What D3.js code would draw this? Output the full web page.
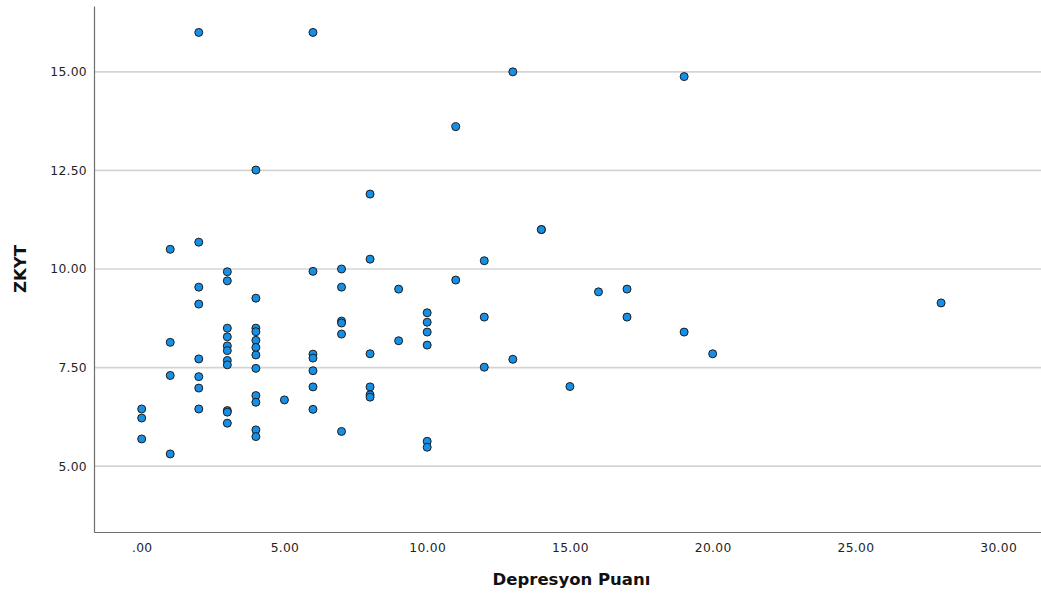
<!DOCTYPE html>
<html>
<head>
<meta charset="utf-8">
<script src="https://cdn.jsdelivr.net/npm/d3@7/dist/d3.min.js"></script>
<style>
  html, body { margin: 0; padding: 0; background: #fff; }
  svg { display: block; }
  .tick-label { font-family: "DejaVu Sans", sans-serif; font-size: 12.3px; fill: #222; letter-spacing: 0.3px; }
  .axis-title { font-family: "DejaVu Sans", sans-serif; font-size: 16.5px; font-weight: bold; fill: #111; }
</style>
</head>
<body>
<svg id="chart" width="1041" height="597"></svg>
<script>
// Depresyon Puanı (x) and ZKYT (y) for each respondent
const depresyon = [
  0, 0, 0,
  1, 1, 1, 1,
  2, 2, 2, 2, 2, 2, 2, 2,
  3, 3, 3, 3, 3, 3, 3, 3, 3, 3, 3,
  4, 4, 4, 4, 4, 4, 4, 4, 4, 4, 4, 4,
  5,
  6, 6, 6, 6, 6, 6, 6,
  7, 7, 7, 7, 7, 7,
  8, 8, 8, 8, 8, 8,
  9, 9,
  10, 10, 10, 10, 10, 10,
  11, 11,
  12, 12, 12,
  13, 13,
  14, 14,
  15,
  16,
  17, 17,
  19, 19,
  20,
  28
];
const zkyt = [
  6.45, 6.22, 5.69,
  10.50, 8.14, 7.30, 5.31,
  16.00, 10.68, 9.54, 9.11, 7.72, 7.27, 6.98, 6.45,
  9.93, 9.70, 8.50, 8.28, 8.05, 7.93, 7.68, 7.57, 6.41, 6.37, 6.09,
  12.51, 9.26, 8.50, 8.41, 8.19, 8.01, 7.82, 7.48, 6.79, 6.62, 5.92, 5.75,
  6.68,
  16.00, 9.94, 7.84, 7.74, 7.42, 7.01, 6.44,
  10.00, 9.54, 8.68, 8.63, 8.35, 5.88,
  11.90, 10.25, 7.85, 7.01, 6.81, 6.75,
  9.49, 8.18,
  8.89, 8.65, 8.40, 8.07, 5.63, 5.48,
  13.61, 9.72,
  10.21, 8.78, 7.51,
  15.00, 7.71,
  11.00, 11.00,
  7.02,
  9.42,
  9.49, 8.78,
  14.88, 8.40,
  7.85,
  9.14
];

const xTicks = [0, 5, 10, 15, 20, 25, 30];
const yTicks = [5, 7.5, 10, 12.5, 15];
const xDomain = [-1.67, 31.5];
const yDomain = [3.33, 16.67];

const xTitle = "Depresyon Puanı";
const yTitle = "ZKYT";

const svg = d3.select("#chart");
const plot = { left: 94, top: 6, right: 1041, bottom: 532 };

const x = d3.scaleLinear().domain(xDomain).range([plot.left, plot.right]);
const y = d3.scaleLinear().domain(yDomain).range([plot.bottom, plot.top]);

// SPSS-style labels: two decimals, no leading zero for 0
const fmt = v => { const s = d3.format(".2f")(v); return s.startsWith("0.") ? s.slice(1) : s; };

// horizontal gridlines
svg.append("g")
  .selectAll("line")
  .data(yTicks)
  .join("line")
  .attr("x1", plot.left)
  .attr("x2", plot.right)
  .attr("y1", d => y(d))
  .attr("y2", d => y(d))
  .attr("stroke", "#d4d4d4")
  .attr("stroke-width", 1.6);

// axis lines
const yAxis = d3.axisLeft(y).tickValues(yTicks).tickSize(0).tickPadding(7).tickFormat(fmt);
const xAxis = d3.axisBottom(x).tickValues(xTicks).tickSize(0).tickPadding(11).tickFormat(fmt);

const gy = svg.append("g").attr("transform", `translate(${plot.left},0)`).call(yAxis);
const gx = svg.append("g").attr("transform", `translate(0,${plot.bottom})`).call(xAxis);

[gx, gy].forEach(g => {
  g.select(".domain").attr("stroke", "#6e6e6e").attr("stroke-width", 1.2);
  g.selectAll("text").attr("class", "tick-label").attr("font-family", null).attr("font-size", null);
});

// points
svg.append("g")
  .selectAll("circle")
  .data(depresyon.map((d, i) => [d, zkyt[i]]))
  .join("circle")
  .attr("cx", d => x(d[0]))
  .attr("cy", d => y(d[1]))
  .attr("r", 4)
  .attr("fill", "#1590e6")
  .attr("stroke", "#1c1c1c")
  .attr("stroke-width", 1);

// axis titles
svg.append("text")
  .attr("class", "axis-title")
  .attr("x", (plot.left + plot.right) / 2 + 4)
  .attr("y", 585)
  .attr("text-anchor", "middle")
  .text(xTitle);

svg.append("text")
  .attr("class", "axis-title")
  .attr("transform", `translate(26,${(plot.top + plot.bottom) / 2}) rotate(-90)`)
  .attr("text-anchor", "middle")
  .text(yTitle);
</script>
</body>
</html>
